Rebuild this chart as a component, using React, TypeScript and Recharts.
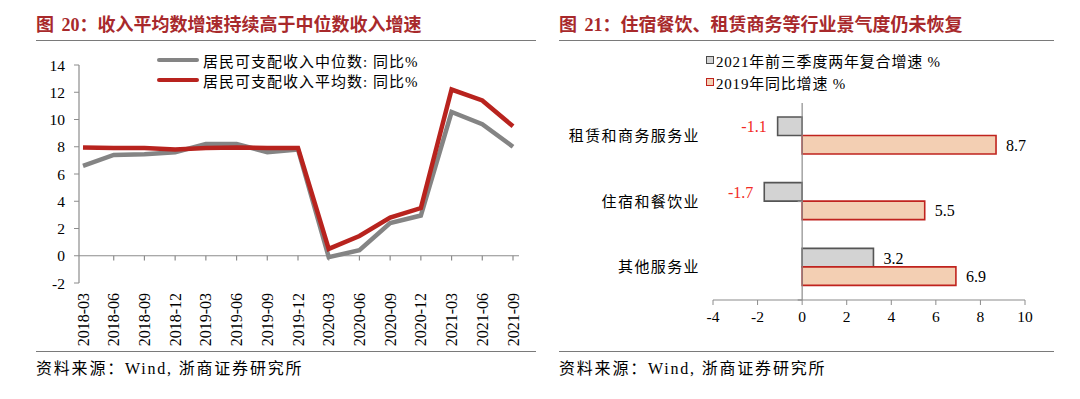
import React from "react"
import { LineChart, Line, BarChart, Bar, XAxis, YAxis, ReferenceLine, Legend, LabelList } from "recharts"

// left panel: disposable income growth, yoy %
const quarters = [
  "2018-03", "2018-06", "2018-09", "2018-12",
  "2019-03", "2019-06", "2019-09", "2019-12",
  "2020-03", "2020-06", "2020-09", "2020-12",
  "2021-03", "2021-06", "2021-09",
]
const medianGrowth = [6.6, 7.4, 7.45, 7.6, 8.2, 8.2, 7.6, 7.8, -0.1, 0.4, 2.4, 2.95, 10.55, 9.65, 8.0]
const meanGrowth = [7.95, 7.9, 7.9, 7.8, 7.9, 7.95, 7.9, 7.9, 0.5, 1.45, 2.8, 3.5, 12.2, 11.4, 9.5]
const incomeTicks = [-2, 0, 2, 4, 6, 8, 10, 12, 14]

// right panel: service industries
const industries = ["租赁和商务服务业", "住宿和餐饮业", "其他服务业"]
const growth2021 = [-1.1, -1.7, 3.2]
const growth2019 = [8.7, 5.5, 6.9]
const growthTicks = [-4, -2, 0, 2, 4, 6, 8, 10]
const bandEdges = [1, 2, 3]

const SERIF = "'Liberation Serif', 'Times New Roman', 'Noto Sans CJK SC', serif"
const TITLE_RED = "#A8292B"
const LINE_RED = "#B8231E"
const LINE_GRAY = "#848484"
const AXIS = "#8C8C8C"
const RULE = "#7A7A7A"

const lineData = quarters.map((q, i) => ({ q, median: medianGrowth[i], mean: meanGrowth[i] }))
const barData = industries.map((name, i) => ({ name, y2021: growth2021[i], y2019: growth2019[i] }))

function QuarterTick({ x, y, payload }: any) {
  return (
    <text
      x={x}
      y={y}
      dy={5.5}
      transform={`rotate(-90, ${x}, ${y})`}
      textAnchor="end"
      fontSize={16}
      fontFamily={SERIF}
      fill="#000"
    >
      {payload.value}
    </text>
  )
}

function LineLegend() {
  const items = [
    { label: "居民可支配收入中位数: 同比%", color: LINE_GRAY },
    { label: "居民可支配收入平均数: 同比%", color: LINE_RED },
  ]
  return (
    <div style={{ fontFamily: SERIF, fontSize: 15, letterSpacing: 1, color: "#000" }}>
      {items.map((it) => (
        <div key={it.label} style={{ display: "flex", alignItems: "center", height: 20, whiteSpace: "nowrap" }}>
          <span style={{ display: "inline-block", width: 42, height: 4, borderRadius: 2, background: it.color, marginRight: 4 }} />
          <span>{it.label}</span>
        </div>
      ))}
    </div>
  )
}

function BarLegend() {
  const items = [
    { label: "2021年前三季度两年复合增速 %", fill: "#D3D3D3", stroke: "#4A4A4A" },
    { label: "2019年同比增速 %", fill: "#F3CFB3", stroke: "#C0231E" },
  ]
  return (
    <div style={{ fontFamily: SERIF, fontSize: 15, letterSpacing: 0.8, color: "#000" }}>
      {items.map((it) => (
        <div key={it.label} style={{ display: "flex", alignItems: "center", height: 22, whiteSpace: "nowrap" }}>
          <span
            style={{
              display: "inline-block",
              width: 6,
              height: 6,
              background: it.fill,
              border: `1.5px solid ${it.stroke}`,
              marginRight: 2,
            }}
          />
          <span>{it.label}</span>
        </div>
      ))}
    </div>
  )
}

function ValueLabel(props: any) {
  const { x, y, width, height, value } = props
  const left = Math.min(x, x + width)
  const right = Math.max(x, x + width)
  const neg = value < 0
  return (
    <text
      x={neg ? left - 11 : right + 10}
      y={y + height / 2}
      dy={6}
      textAnchor={neg ? "end" : "start"}
      fill={neg ? "#F22A24" : "#000"}
      fontSize={16}
      fontFamily={SERIF}
    >
      {value}
    </text>
  )
}

function Rule({ left, top, width }: { left: number; top: number; width: number }) {
  return <div style={{ position: "absolute", left, top, width, borderTop: `1.5px solid ${RULE}` }} />
}

function Title({ left, text }: { left: number; text: string }) {
  return (
    <div
      style={{
        position: "absolute",
        left,
        top: 14,
        fontSize: 18,
        lineHeight: "22px",
        fontWeight: 700,
        color: TITLE_RED,
        whiteSpace: "nowrap",
        fontFamily: SERIF,
        wordSpacing: 3,
      }}
    >
      {text}
    </div>
  )
}

function Source({ left }: { left: number }) {
  return (
    <div
      style={{
        position: "absolute",
        left,
        top: 358,
        fontSize: 16,
        lineHeight: "22px",
        letterSpacing: 1.8,
        color: "#000",
        whiteSpace: "nowrap",
        fontFamily: SERIF,
      }}
    >
      资料来源：Wind, 浙商证券研究所
    </div>
  )
}

export default function App() {
  return (
    <div style={{ position: "absolute", left: 0, top: 0, width: 1080, height: 399, background: "#fff", overflow: "hidden" }}>
      <Title left={36} text="图 20：收入平均数增速持续高于中位数收入增速" />
      <Rule left={36} top={40} width={500} />
      <Title left={559} text="图 21：住宿餐饮、租赁商务等行业景气度仍未恢复" />
      <Rule left={559} top={40} width={495} />

      <div style={{ position: "absolute", left: 0, top: 0 }}>
        <LineChart width={540} height={399} data={lineData} margin={{ top: 65, right: 21, bottom: 46, left: 0 }}>
          <XAxis
            dataKey="q"
            interval={0}
            axisLine={false}
            tickLine={false}
            tickSize={0}
            tickMargin={10}
            height={70}
            padding={{ left: 4, right: 6 }}
            tick={<QuarterTick />}
          />
          <YAxis
            domain={[-2, 14]}
            ticks={incomeTicks}
            interval={0}
            width={79}
            axisLine={{ stroke: AXIS, strokeWidth: 1.2 }}
            tickLine={{ stroke: AXIS }}
            tickSize={5}
            tickMargin={9}
            tick={{ fontSize: 15.5, fontFamily: SERIF, fill: "#000" }}
          />
          <ReferenceLine y={0} stroke={AXIS} strokeWidth={1.2} />
          {quarters.slice(1).map((q) => (
            <ReferenceLine key={q} segment={[{ x: q, y: 0 }, { x: q, y: -0.35 }]} stroke={AXIS} strokeWidth={1.2} />
          ))}
          <Line type="linear" dataKey="median" stroke={LINE_GRAY} strokeWidth={4.5} dot={false} isAnimationActive={false} />
          <Line type="linear" dataKey="mean" stroke={LINE_RED} strokeWidth={4.5} dot={false} isAnimationActive={false} />
          <Legend
            layout="vertical"
            align="center"
            verticalAlign="middle"
            content={() => <LineLegend />}
            wrapperStyle={{ left: 157, top: 50, width: "auto", height: "auto" }}
          />
        </LineChart>
      </div>

      <div style={{ position: "absolute", left: 540, top: 0 }}>
        <BarChart
          width={540}
          height={399}
          data={barData}
          layout="vertical"
          margin={{ top: 103, right: 55, bottom: 69, left: 0 }}
          barSize={18.5}
          barGap={0}
        >
          <XAxis
            type="number"
            domain={[-4, 10]}
            ticks={growthTicks}
            interval={0}
            height={30}
            axisLine={{ stroke: AXIS, strokeWidth: 1.2 }}
            tickLine={{ stroke: AXIS }}
            tickSize={5}
            tickMargin={6}
            tick={{ fontSize: 15.5, fontFamily: SERIF, fill: "#000" }}
          />
          <YAxis
            type="category"
            dataKey="name"
            width={173}
            axisLine={false}
            tickLine={false}
            tickSize={0}
            tickMargin={13}
            tick={{ fontSize: 15, fontFamily: SERIF, fill: "#000", letterSpacing: 1.4 }}
          />
          <YAxis yAxisId="band" type="number" domain={[0, 3]} hide />
          <ReferenceLine x={0} stroke={AXIS} strokeWidth={1.2} />
          {bandEdges.map((e) => (
            <ReferenceLine key={e} yAxisId="band" segment={[{ x: -0.2, y: e }, { x: 0, y: e }]} stroke={AXIS} strokeWidth={1.2} />
          ))}
          <Bar dataKey="y2021" fill="#D3D3D3" stroke="#555555" strokeWidth={1.6} isAnimationActive={false}>
            <LabelList dataKey="y2021" content={<ValueLabel />} />
          </Bar>
          <Bar dataKey="y2019" fill="#F3CFB3" stroke="#C0231E" strokeWidth={1.6} isAnimationActive={false}>
            <LabelList dataKey="y2019" content={<ValueLabel />} />
          </Bar>
          <Legend
            layout="vertical"
            align="center"
            verticalAlign="middle"
            content={() => <BarLegend />}
            wrapperStyle={{ left: 166, top: 49, width: "auto", height: "auto" }}
          />
        </BarChart>
      </div>

      <Rule left={36} top={351} width={500} />
      <Source left={36} />
      <Rule left={559} top={351} width={495} />
      <Source left={559} />
    </div>
  )
}
